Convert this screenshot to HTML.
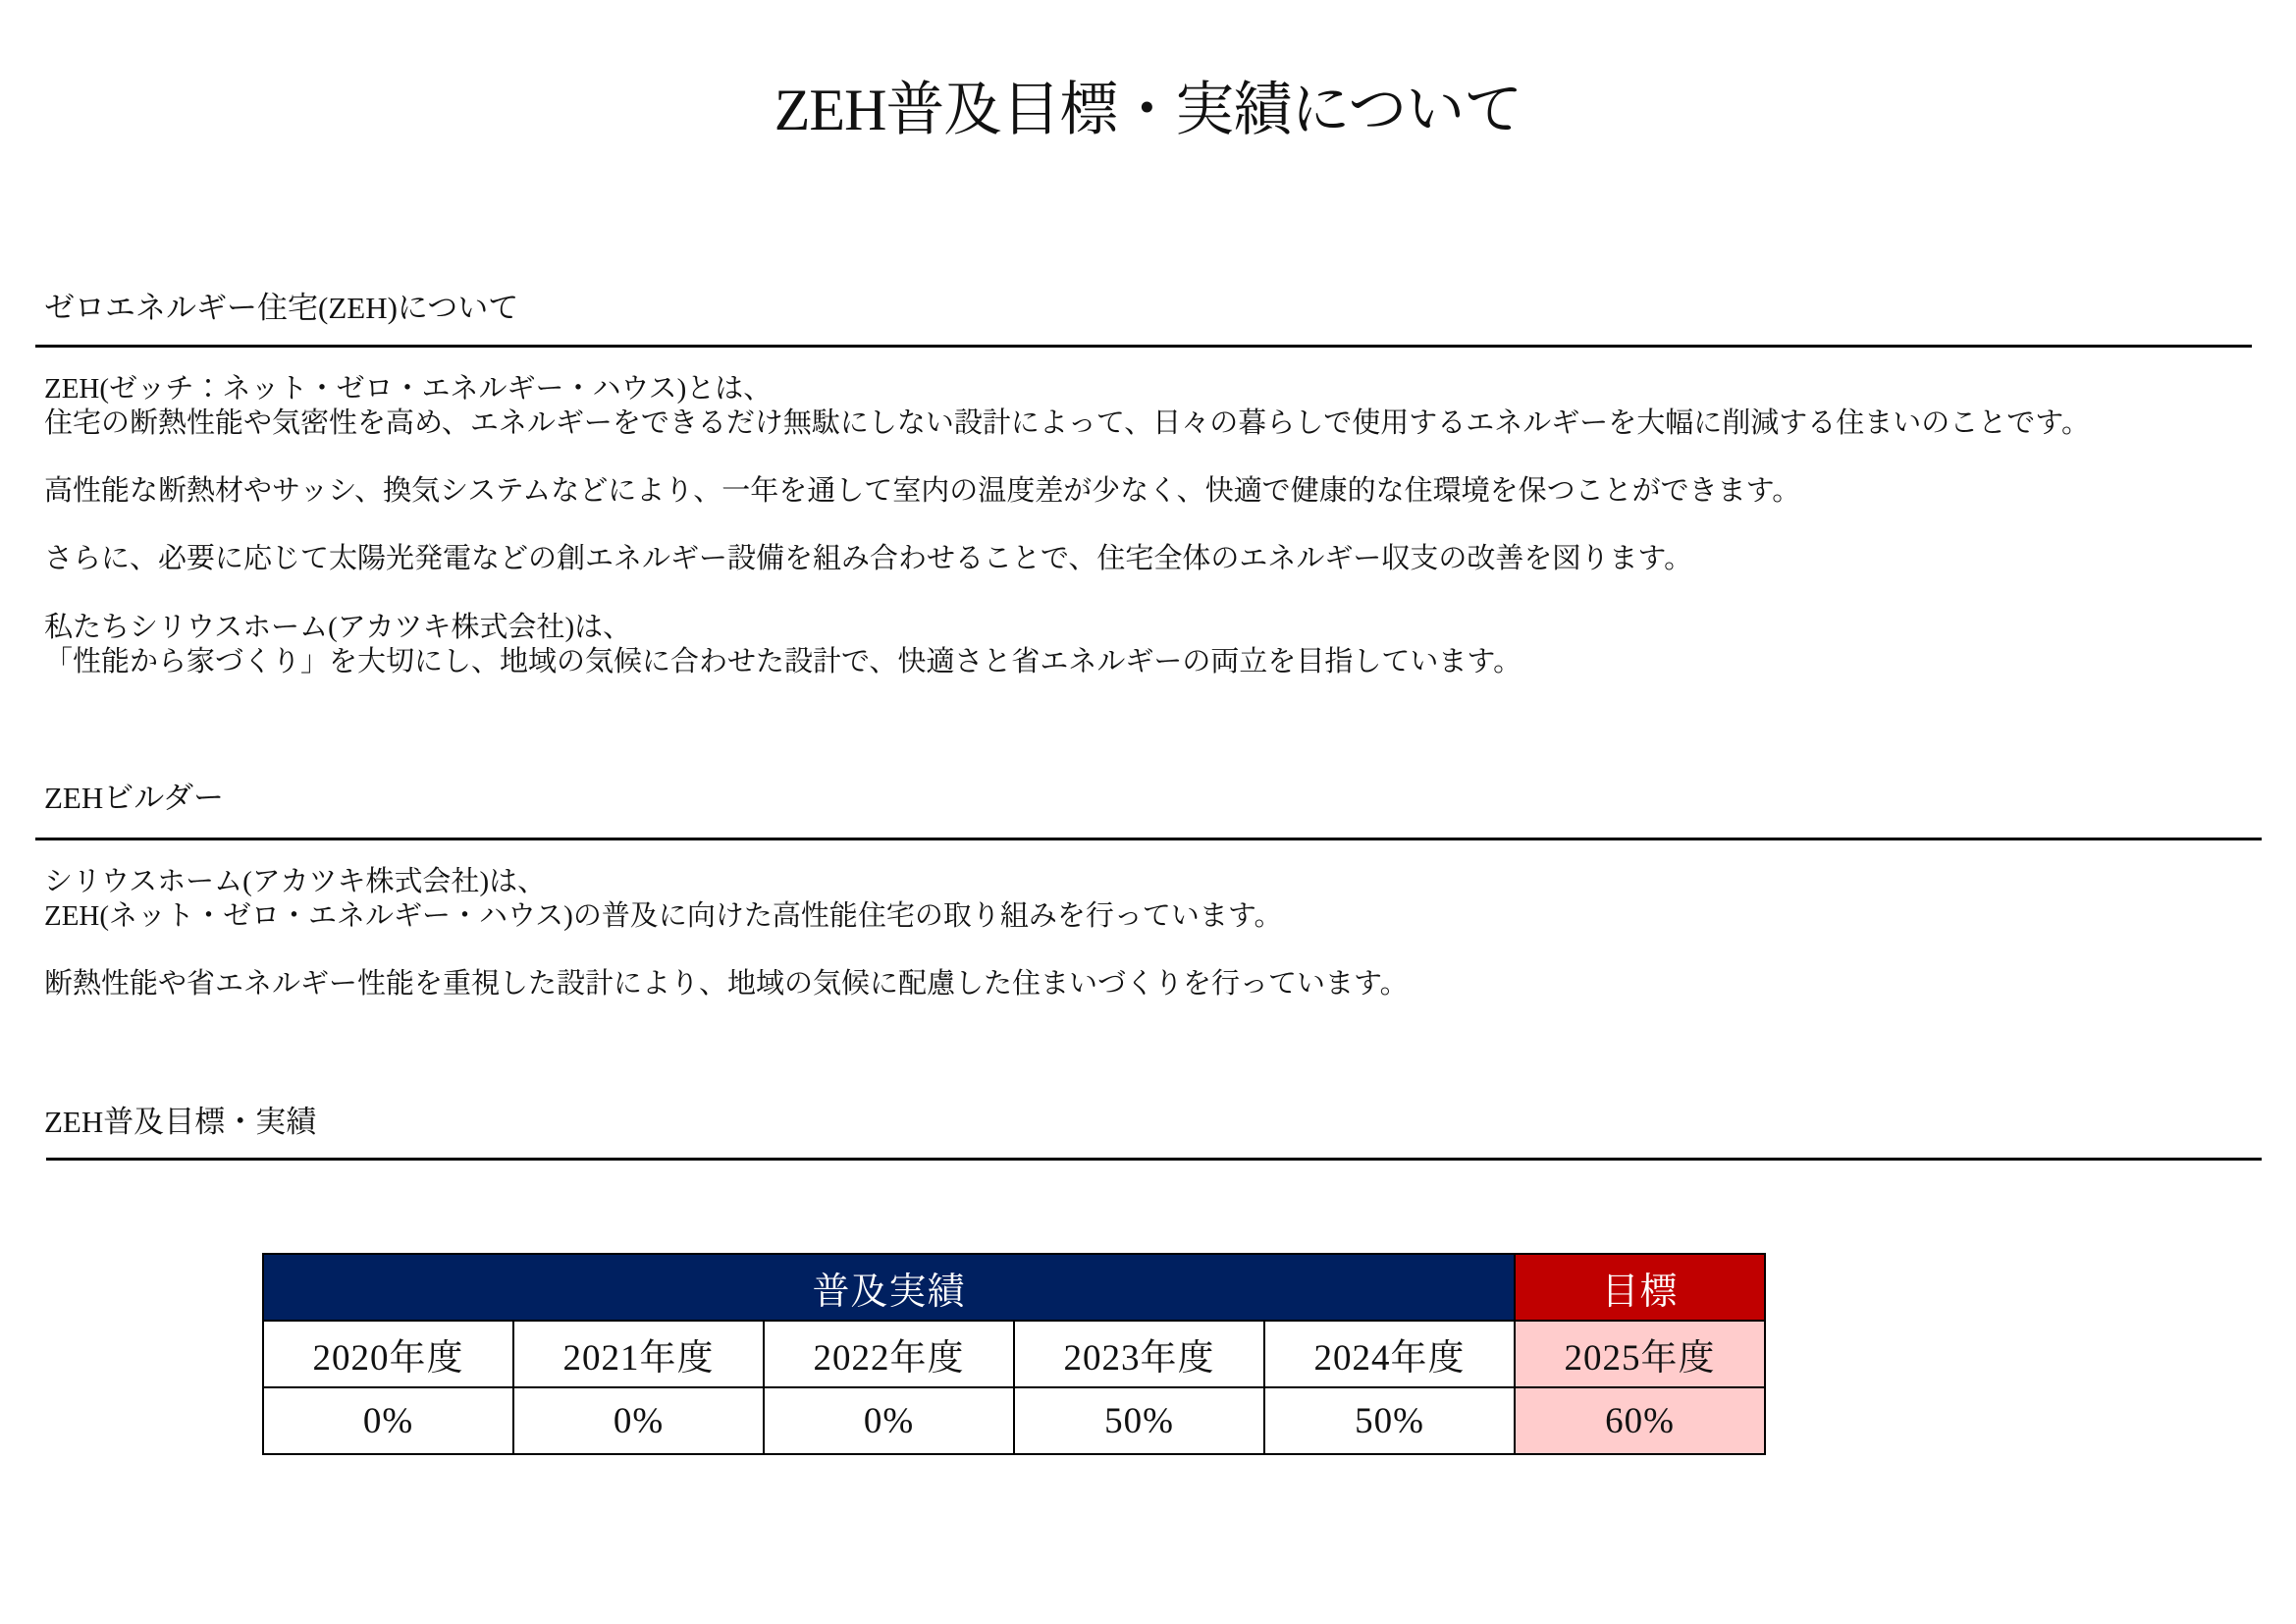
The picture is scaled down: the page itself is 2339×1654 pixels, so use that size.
<!DOCTYPE html>
<html><head><meta charset="utf-8">
<style>
html,body{margin:0;padding:0;background:#fff;}
body{width:2339px;height:1654px;position:relative;overflow:hidden;font-family:"Liberation Serif","Noto Serif CJK JP",serif;color:#111;}
.t{position:absolute;white-space:nowrap;line-height:1;}
.title{left:0;width:2339px;text-align:center;top:82px;font-size:60px;letter-spacing:-1px;}
.h{font-size:31px;left:45px;}
.p{font-size:29px;left:45px;}
.line{position:absolute;height:3px;background:#000;}
table{position:absolute;left:267px;top:1276px;border-collapse:collapse;font-family:"Liberation Serif","Noto Serif CJK JP",serif;}
td{border:2px solid #000;width:253px;text-align:center;font-size:37px;padding:0;letter-spacing:1px;}
tr.r0 td{height:66px;color:#fff;font-size:38px;}
tr.r1 td,tr.r2 td{height:66px;}
.nav{background:#002060;}
.red{background:#c00000;}
.pink{background:#ffcccc;}
</style></head><body>
<div class="t title">ZEH普及目標・実績について</div>

<div class="t h" style="top:298px">ゼロエネルギー住宅(ZEH)について</div>
<div class="line" style="left:36px;width:2258px;top:351px"></div>
<div class="t p" style="top:382px">ZEH(ゼッチ：ネット・ゼロ・エネルギー・ハウス)とは、</div>
<div class="t p" style="top:417px">住宅の断熱性能や気密性を高め、エネルギーをできるだけ無駄にしない設計によって、日々の暮らしで使用するエネルギーを大幅に削減する住まいのことです。</div>
<div class="t p" style="top:486px">高性能な断熱材やサッシ、換気システムなどにより、一年を通して室内の温度差が少なく、快適で健康的な住環境を保つことができます。</div>
<div class="t p" style="top:555px">さらに、必要に応じて太陽光発電などの創エネルギー設備を組み合わせることで、住宅全体のエネルギー収支の改善を図ります。</div>
<div class="t p" style="top:625px">私たちシリウスホーム(アカツキ株式会社)は、</div>
<div class="t p" style="top:660px">「性能から家づくり」を大切にし、地域の気候に合わせた設計で、快適さと省エネルギーの両立を目指しています。</div>

<div class="t h" style="top:797px">ZEHビルダー</div>
<div class="line" style="left:36px;width:2268px;top:853px"></div>
<div class="t p" style="top:884px">シリウスホーム(アカツキ株式会社)は、</div>
<div class="t p" style="top:919px">ZEH(ネット・ゼロ・エネルギー・ハウス)の普及に向けた高性能住宅の取り組みを行っています。</div>
<div class="t p" style="top:988px">断熱性能や省エネルギー性能を重視した設計により、地域の気候に配慮した住まいづくりを行っています。</div>

<div class="t h" style="top:1127px">ZEH普及目標・実績</div>
<div class="line" style="left:47px;width:2257px;top:1179px"></div>

<table>
<tr class="r0"><td class="nav" colspan="5">普及実績</td><td class="red">目標</td></tr>
<tr class="r1"><td>2020年度</td><td>2021年度</td><td>2022年度</td><td>2023年度</td><td>2024年度</td><td class="pink">2025年度</td></tr>
<tr class="r2"><td>0%</td><td>0%</td><td>0%</td><td>50%</td><td>50%</td><td class="pink">60%</td></tr>
</table>
</body></html>
